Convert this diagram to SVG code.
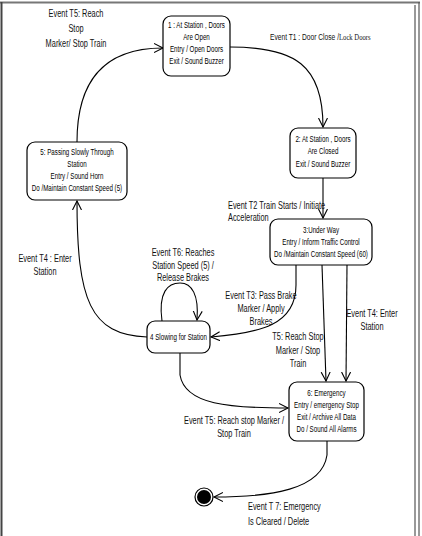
<svg xmlns="http://www.w3.org/2000/svg" width="422" height="536" viewBox="0 0 422 536">
<style>
.node rect{fill:#fff;stroke:#000;stroke-width:1.2}
.nt{font-family:"Liberation Sans",Arial,sans-serif;font-size:8.4px;fill:#000;text-anchor:middle}
.lbl{font-family:"Liberation Sans",Arial,sans-serif;font-size:10px;fill:#111}
.conn path{fill:none;stroke:#000;stroke-width:1.1}
</style>
<defs>
<marker id="arr" markerUnits="userSpaceOnUse" markerWidth="12" markerHeight="12" refX="9" refY="5" orient="auto">
<path d="M0,0.5 L9,5 L0,9.5" fill="none" stroke="#000" stroke-width="1.1"/>
</marker>
</defs>
<rect width="422" height="536" fill="#fff"/>
<g id="frame" fill="none">
<line x1="0" y1="2.5" x2="420" y2="2.5" stroke="#777" stroke-width="2"/>
<line x1="1.5" y1="2" x2="1.5" y2="536" stroke="#444" stroke-width="2"/>
<line x1="415" y1="5" x2="415" y2="536" stroke="#555" stroke-width="1.2"/>
<line x1="419" y1="2" x2="419" y2="536" stroke="#555" stroke-width="1.2"/>
</g>
<g class="conn" id="connectors">
<path d="M77,142 C77,85 100,48 163,48" marker-end="url(#arr)"/>
<path d="M230,47 C295,47 323,65 323,127" marker-end="url(#arr)"/>
<path d="M323,178 L323,218" marker-end="url(#arr)"/>
<path d="M296,265 L296,285 C296,325 260,333 211,337" marker-end="url(#arr)"/>
<path d="M322,265 L326,381" marker-end="url(#arr)"/>
<path d="M347,265 L346,381" marker-end="url(#arr)"/>
<path d="M162,321 C158,292 168,283 180,283 C192,283 199,295 197,320" marker-end="url(#arr)"/>
<path d="M147,337 C90,335 77,300 77,201" marker-end="url(#arr)"/>
<path d="M180,353 L180,375 C185,405 230,408 288,408" marker-end="url(#arr)"/>
<path d="M327,441 L327,455 C322,490 270,497 214,497" marker-end="url(#arr)"/>
</g>
<g id="node1" class="node">
<rect x="163" y="16" width="67" height="60" rx="8"/>
<text class="nt" transform="translate(196.5 0) scale(0.74 1)"><tspan x="0" y="28">1 : At Station , Doors</tspan><tspan x="0" y="40">Are Open</tspan><tspan x="0" y="52">Entry / Open Doors</tspan><tspan x="0" y="64">Exit / Sound Buzzer</tspan></text>
</g>
<g id="node2" class="node">
<rect x="290" y="128" width="66" height="50" rx="8"/>
<text class="nt" transform="translate(323 0) scale(0.74 1)"><tspan x="0" y="142">2: At Station , Doors</tspan><tspan x="0" y="154">Are Closed</tspan><tspan x="0" y="167">Exit /  Sound Buzzer</tspan></text>
</g>
<g id="node3" class="node">
<rect x="270" y="219" width="102" height="46" rx="8"/>
<text class="nt" transform="translate(321 0) scale(0.74 1)"><tspan x="0" y="233">3:Under Way</tspan><tspan x="0" y="245">Entry / Inform Traffic Control</tspan><tspan x="0" y="257">Do /Maintain Constant Speed (60)</tspan></text>
</g>
<g id="node4" class="node">
<rect x="147" y="321" width="63" height="32" rx="8"/>
<text class="nt" transform="translate(178.5 0) scale(0.74 1)"><tspan x="0" y="340">4 Slowing for Station</tspan></text>
</g>
<g id="node5" class="node">
<rect x="27" y="142" width="100" height="58" rx="8"/>
<text class="nt" transform="translate(77 0) scale(0.74 1)"><tspan x="0" y="155">5: Passing Slowly Through</tspan><tspan x="0" y="167">Station</tspan><tspan x="0" y="179">Entry / Sound Horn</tspan><tspan x="0" y="191">Do /Maintain Constant Speed (5)</tspan></text>
</g>
<g id="node6" class="node">
<rect x="289" y="382" width="75" height="59" rx="8"/>
<text class="nt" transform="translate(326.5 0) scale(0.74 1)"><tspan x="0" y="396">6: Emergency</tspan><tspan x="0" y="408">Entry / emergency Stop</tspan><tspan x="0" y="420">Exit / Archive All Data</tspan><tspan x="0" y="432">Do  / Sound All Alarms</tspan></text>
</g>
<g id="final">
<circle cx="204" cy="497" r="9" fill="#fff" stroke="#000" stroke-width="1.2"/>
<circle cx="204" cy="497" r="7" fill="#000"/>
</g>
<g id="labels">
<text class="lbl" text-anchor="middle" transform="translate(76 0) scale(0.74 1)"><tspan x="0" y="17">Event T5: Reach</tspan><tspan x="0" y="32">Stop</tspan><tspan x="0" y="47">Marker/ Stop Train</tspan></text>
<text class="lbl" style="font-size:9px" transform="translate(270 0) scale(0.74 1)"><tspan x="0" y="40">Event T1 : Door Close /<tspan font-family="Liberation Serif, serif">Lock Doors</tspan></tspan></text>
<text class="lbl" transform="translate(228 0) scale(0.74 1)"><tspan x="0" y="209">Event T2 Train Starts / Initiate</tspan><tspan x="0" y="221">Acceleration</tspan></text>
<text class="lbl" text-anchor="middle" transform="translate(183 0) scale(0.74 1)"><tspan x="0" y="256">Event T6:  Reaches</tspan><tspan x="0" y="269">Station Speed (5) /</tspan><tspan x="0" y="281">Release Brakes</tspan></text>
<text class="lbl" text-anchor="middle" transform="translate(45 0) scale(0.74 1)"><tspan x="0" y="262">Event T4 : Enter</tspan><tspan x="0" y="275">Station</tspan></text>
<text class="lbl" text-anchor="middle" transform="translate(261 0) scale(0.74 1)"><tspan x="0" y="299">Event T3: Pass Brake</tspan><tspan x="0" y="312">Marker / Apply</tspan><tspan x="0" y="325">Brakes</tspan></text>
<text class="lbl" text-anchor="middle" transform="translate(372 0) scale(0.74 1)"><tspan x="0" y="317">Event T4: Enter</tspan><tspan x="0" y="330">Station</tspan></text>
<text class="lbl" text-anchor="middle" transform="translate(298 0) scale(0.74 1)"><tspan x="0" y="340">T5: Reach Stop</tspan><tspan x="0" y="354">Marker / Stop</tspan><tspan x="0" y="367">Train</tspan></text>
<text class="lbl" text-anchor="middle" transform="translate(234 0) scale(0.74 1)"><tspan x="0" y="424">Event T5:  Reach stop Marker /</tspan><tspan x="0" y="437">Stop Train</tspan></text>
<text class="lbl" transform="translate(248 0) scale(0.74 1)"><tspan x="0" y="510">Event T 7: Emergency</tspan><tspan x="0" y="525">Is Cleared / Delete</tspan></text>
</g>
</svg>
